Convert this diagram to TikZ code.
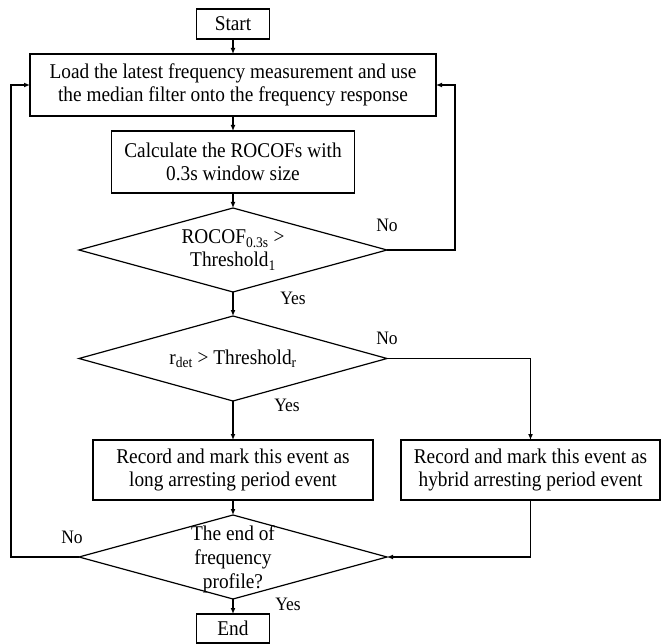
\documentclass[tikz,border=0pt]{standalone}
\usepackage{fontspec}
\setmainfont{Liberation Serif}[FakeStretch=0.92]
\usepackage{tikz}
\usetikzlibrary{arrows.meta,positioning,shapes.geometric}

\begin{document}
\begin{tikzpicture}[x=1pt, y=-1pt, node distance=15pt, every node/.style={font=\fontsize{21}{23}\selectfont}, box/.style={draw, line width=1.2pt, outer sep=0pt, inner sep=2pt, minimum height=62pt, align=center}, decision/.style={diamond, draw, line width=1.2pt, outer sep=0pt, inner sep=0pt, shape aspect=3.67, minimum width=308pt, minimum height=84pt, align=center}, lbl/.style={font=\fontsize{19}{21}\selectfont, inner sep=0pt}, arrow/.style={-{Latex[length=6pt,width=5pt]}, line width=1.2pt}]
\useasboundingbox (0,0) rectangle (661,644);
\node[box, minimum width=73pt, minimum height=30pt] (start) at (233,24) {Start};
\node[box, minimum width=406pt] (load) [below=of start] {Load the latest frequency measurement and use\\the median filter onto the frequency response};
\node[box, minimum width=243pt] (calc) [below=of load] {Calculate the ROCOFs with\\0.3s window size};
\node[decision] (dec1) [below=of calc] {ROCOF\textsubscript{0.3s} >\\Threshold\textsubscript{1}};
\node[decision, minimum height=85pt] (dec2) [below=24pt of dec1] {r\textsubscript{det} > Threshold\textsubscript{r}};
\node[box, minimum width=280pt, minimum height=60pt] (rec1) [below=39pt of dec2] {Record and mark this event as\\long arresting period event};
\node[box, minimum width=259pt, minimum height=60pt] (rec2) [right=28pt of rec1] {Record and mark this event as\\hybrid arresting period event};
\node[decision] (dec3) [below=of rec1] {};
\node[align=center, font=\fontsize{21}{24}\selectfont] (dec3txt) at ([yshift=-2pt]dec3) {The end of\\frequency\\profile?};
\node[box, minimum width=73pt, minimum height=29pt] (end) [below=of dec3] {End};
% yes / no labels
\node[lbl] (no1) at (387,225) {No};
\node[lbl] (yes1) at (293,298) {Yes};
\node[lbl] (no2) at (387,338) {No};
\node[lbl] (yes2) at (287,405) {Yes};
\node[lbl] (no3) at (72,537) {No};
\node[lbl] (yes3) at (288,604) {Yes};
\draw[arrow] (start)--(load); \draw[arrow] (load)--(calc); \draw[arrow] (calc)--(dec1); \draw[arrow] (dec1)--(dec2); \draw[arrow] (dec2)--(rec1); \draw[arrow] (rec1)--(dec3); \draw[arrow] (dec3)--(end);
\draw[arrow] (dec1.east) -- ++(68,0) |- (load.east);
\draw[arrow] (dec2.east) -| (rec2.north);
\draw[arrow] (rec2.south) |- (dec3.east);
\draw[arrow] (dec3.west) -- ++(-68,0) |- (load.west);
\end{tikzpicture}
\end{document}
